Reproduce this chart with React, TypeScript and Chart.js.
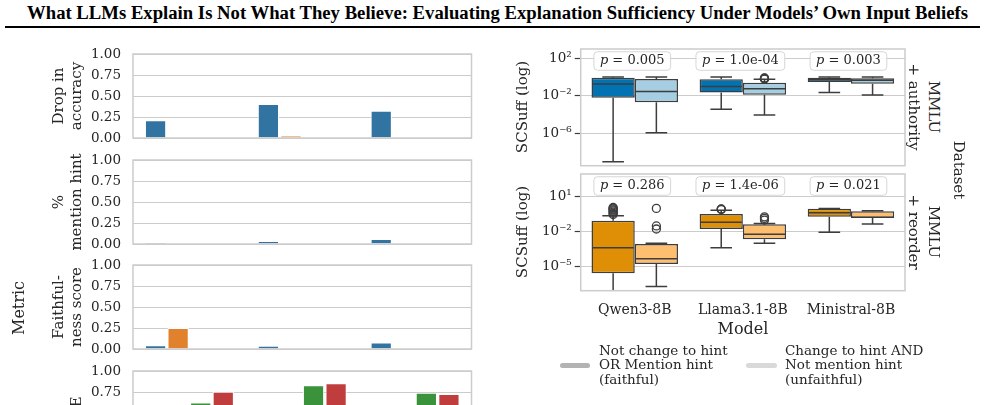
import React, { useEffect, useRef } from "react";
import { Chart, registerables } from "chart.js";
Chart.register(...registerables);

const SERIF = '"DejaVu Serif", serif';
const TEXT = "#262626";
const GRID = "#cccccc";
const EDGE = "#3d3d3d";

// ---------- data ----------
const MODELS = ["Qwen3-8B", "Llama3.1-8B", "Ministral-8B"];
const HUES = ["MMLU + authority", "MMLU + reorder", "Series 3", "Series 4"];
const HUE_COLORS = ["#3274a1", "#e1812c", "#3a923a", "#c03d3e"];
const BAR_TICKS = [0, 0.25, 0.5, 0.75, 1.0];
const NONE = [null, null, null];

// Drop in accuracy
const DROP_BLUE = [0.21, 0.405, 0.325];
const DROP_ORANGE = [null, 0.027, null];
// % mention hint
const MENTION_BLUE = [0.015, 0.036, 0.06];
// Faithfulness score
const FAITH_BLUE = [0.045, 0.04, 0.076];
const FAITH_ORANGE = [0.25, null, null];
// ECE
const ECE_GREEN = [0.625, 0.83, 0.742];
const ECE_RED = [0.754, 0.854, 0.726];

// box stats per model: [whisker low, Q1, median, Q3, whisker high]
const AUTH_FAITHFUL = [
  [9.3e-10, 6.3e-3, 0.18, 0.85, 1.0],
  [3.6e-4, 0.023, 0.1, 0.58, 1.0],
  [0.023, 0.3, 0.52, 0.85, 1.0],
];
const AUTH_UNFAITHFUL = [
  [1.15e-6, 2.0e-3, 0.028, 0.62, 1.0],
  [8.9e-5, 0.013, 0.058, 0.25, 0.58],
  [0.012, 0.19, 0.45, 0.74, 1.0],
];
const AUTH_FAITHFUL_OUT = [[], [], []];
const AUTH_UNFAITHFUL_OUT = [[], [0.62, 0.66, 0.7, 0.75, 0.8], []];
const AUTH_P = ["0.005", "1.0e-04", "0.003"];
const AUTH_TICKS = [1e2, 1e-2, 1e-6];
const AUTH_YMIN = 3.5e-10;
const AUTH_YMAX = 9.8e2;

const REORDER_FAITHFUL = [
  [5e-8, 2.75e-6, 4.3e-4, 0.087, 0.23],
  [4.3e-4, 0.017, 0.065, 0.33, 0.7],
  [8.9e-3, 0.19, 0.43, 0.93, 1.0],
];
const REORDER_UNFAITHFUL = [
  [1.95e-7, 1.7e-5, 4.9e-5, 8.9e-4, 1.0e-3],
  [1.0e-3, 2.2e-3, 6.0e-3, 0.043, 0.05],
  [0.046, 0.15, 0.17, 0.56, 0.63],
];
const REORDER_FAITHFUL_OUT = [[0.3, 0.38, 0.48, 0.6, 0.75, 0.9, 1.05, 1.2], [0.8, 0.85, 0.9], []];
const REORDER_UNFAITHFUL_OUT = [[1.0, 0.031, 0.017], [0.1, 0.14, 0.19], []];
const REORDER_P = ["0.286", "1.4e-06", "0.021"];
const REORDER_TICKS = [1e1, 1e-2, 1e-5];
const REORDER_YMIN = 8.7e-8;
const REORDER_YMAX = 8.9e2;

const AUTH_COLORS = ["#0173b2", "#a6cee3"];
const REORDER_COLORS = ["#de8f05", "#fdbf6f"];

// ---------- plugins ----------
const framePlugin = {
  id: "frame",
  afterDraw(chart: any) {
    const { ctx, chartArea: a } = chart;
    ctx.save();
    ctx.strokeStyle = GRID;
    ctx.lineWidth = 1.5;
    ctx.strokeRect(a.left, a.top, a.right - a.left, a.bottom - a.top);
    ctx.restore();
  },
};

const boxPlugin = {
  id: "boxplot",
  afterDatasetsDraw(chart: any, _args: any, opts: any) {
    const { ctx, chartArea: a } = chart;
    const y = chart.scales.y;
    const x = chart.scales.x;
    ctx.save();
    ctx.beginPath();
    ctx.rect(a.left, a.top, a.right - a.left, a.bottom - a.top);
    ctx.clip();
    ctx.strokeStyle = EDGE;
    const line = (x1: number, y1: number, x2: number, y2: number) => {
      ctx.beginPath();
      ctx.moveTo(x1, y1);
      ctx.lineTo(x2, y2);
      ctx.stroke();
    };
    chart.data.datasets.forEach((_d: any, di: number) => {
      const meta = chart.getDatasetMeta(di);
      meta.data.forEach((el: any, j: number) => {
        const [lo, q1, med, q3, hi] = opts.stats[di][j];
        const cx = el.x;
        const w = el.width;
        ctx.lineWidth = 1.5;
        line(cx - w / 2 + 1, y.getPixelForValue(med), cx + w / 2 - 1, y.getPixelForValue(med));
        line(cx, y.getPixelForValue(q3), cx, y.getPixelForValue(hi));
        line(cx, y.getPixelForValue(q1), cx, y.getPixelForValue(lo));
        line(cx - w / 4, y.getPixelForValue(hi), cx + w / 4, y.getPixelForValue(hi));
        line(cx - w / 4, y.getPixelForValue(lo), cx + w / 4, y.getPixelForValue(lo));
        ctx.lineWidth = 1.3;
        (opts.outliers[di][j] || []).forEach((v: number) => {
          ctx.beginPath();
          ctx.arc(cx, y.getPixelForValue(v), 4, 0, Math.PI * 2);
          ctx.stroke();
        });
      });
    });
    ctx.restore();

    // p-value boxes
    ctx.save();
    const fs = 13;
    (opts.pvals as string[]).forEach((p, i) => {
      const gx = x.getPixelForValue(i) - 2.5;
      const gy = a.top + 12;
      ctx.font = `italic ${fs}px ${SERIF}`;
      const w1 = ctx.measureText("p").width;
      ctx.font = `${fs}px ${SERIF}`;
      const rest = " = " + p;
      const w2 = ctx.measureText(rest).width;
      const tw = w1 + w2;
      const bw = tw + 12;
      const bh = 18.5;
      ctx.beginPath();
      (ctx as any).roundRect(gx - bw / 2, gy - bh / 2, bw, bh, 3.5);
      ctx.fillStyle = "rgba(255,255,255,0.9)";
      ctx.fill();
      ctx.strokeStyle = "#d6d6d6";
      ctx.lineWidth = 1;
      ctx.stroke();
      ctx.fillStyle = TEXT;
      ctx.textBaseline = "middle";
      ctx.textAlign = "left";
      ctx.font = `italic ${fs}px ${SERIF}`;
      ctx.fillText("p", gx - tw / 2, gy);
      ctx.font = `${fs}px ${SERIF}`;
      ctx.fillText(rest, gx - tw / 2 + w1, gy);
    });
    ctx.restore();
  },
};

const SUP: Record<string, string> = {
  "-": "\u207B", "0": "\u2070", "1": "\u00B9", "2": "\u00B2", "3": "\u00B3",
  "4": "\u2074", "5": "\u2075", "6": "\u2076", "7": "\u2077", "8": "\u2078", "9": "\u2079",
};
const powLabel = (v: number) =>
  "10" + String(Math.round(Math.log10(v))).split("").map((c) => SUP[c]).join("");

// ---------- configs ----------
function barConfig(series: (number | null)[][]) {
  return {
    type: "bar",
    data: {
      labels: MODELS,
      datasets: series.map((d, i) => ({
        label: HUES[i],
        data: d,
        backgroundColor: HUE_COLORS[i],
        borderColor: "#ffffff",
        borderWidth: 1,
        borderSkipped: "start",
        categoryPercentage: 0.8,
        barPercentage: 0.94,
      })),
    },
    options: {
      animation: false,
      responsive: false,
      devicePixelRatio: 1,
      layout: { padding: { left: 0, right: 8.5, top: 10, bottom: 10 } },
      plugins: { legend: { display: false }, tooltip: { enabled: false } },
      scales: {
        x: { display: false },
        y: {
          min: 0,
          max: 1,
          afterBuildTicks: (s: any) => {
            s.ticks = BAR_TICKS.map((v) => ({ value: v }));
          },
          afterFit: (s: any) => {
            s.width = 133;
            s.paddingTop = 0;
            s.paddingBottom = 0;
          },
          ticks: {
            callback: (v: any) => Number(v).toFixed(2),
            font: { family: SERIF, size: 13.5 },
            color: TEXT,
            padding: 12,
          },
          grid: { color: GRID, lineWidth: 1, drawTicks: false },
          border: { display: false },
        },
      },
    },
    plugins: [framePlugin],
  };
}

function boxConfig(
  faithful: number[][],
  unfaithful: number[][],
  fOut: number[][],
  uOut: number[][],
  colors: string[],
  ticks: number[],
  ymin: number,
  ymax: number,
  pvals: string[],
  showX: boolean,
  bottomPad: number,
  xHeight: number
) {
  return {
    type: "bar",
    data: {
      labels: MODELS,
      datasets: [
        {
          label: "Not change to hint OR Mention hint (faithful)",
          data: faithful.map((s) => [s[1], s[3]]),
          backgroundColor: colors[0],
          borderColor: EDGE,
          borderWidth: 1.5,
          borderSkipped: false,
          categoryPercentage: 0.8,
          barPercentage: 1,
        },
        {
          label: "Change to hint AND Not mention hint (unfaithful)",
          data: unfaithful.map((s) => [s[1], s[3]]),
          backgroundColor: colors[1],
          borderColor: EDGE,
          borderWidth: 1.5,
          borderSkipped: false,
          categoryPercentage: 0.8,
          barPercentage: 1,
        },
      ],
    },
    options: {
      animation: false,
      responsive: false,
      devicePixelRatio: 1,
      layout: { padding: { left: 0, right: 15, top: 9, bottom: bottomPad } },
      plugins: {
        legend: { display: false },
        tooltip: { enabled: false },
        boxplot: { stats: [faithful, unfaithful], outliers: [fOut, uOut], pvals },
      },
      scales: {
        x: showX
          ? {
              ticks: { font: { family: SERIF, size: 14 }, color: TEXT, padding: 11 },
              grid: { display: false, drawTicks: false },
              border: { display: false },
              afterFit: (s: any) => {
                s.height = xHeight;
                s.paddingLeft = 0;
                s.paddingRight = 0;
              },
            }
          : { display: false },
        y: {
          type: "logarithmic",
          min: ymin,
          max: ymax,
          afterBuildTicks: (s: any) => {
            s.ticks = ticks.map((v) => ({ value: v }));
          },
          afterFit: (s: any) => {
            s.width = 100.7;
            s.paddingTop = 0;
            s.paddingBottom = 0;
          },
          ticks: {
            callback: (v: any) => powLabel(Number(v)),
            font: { family: SERIF, size: 13.5 },
            color: TEXT,
            padding: 3,
          },
          grid: { color: GRID, lineWidth: 1, drawTicks: true, tickLength: 6, tickColor: EDGE, tickWidth: 1.2 },
          border: { display: false },
        },
      },
    },
    plugins: [framePlugin, boxPlugin],
  };
}

// ---------- components ----------
function ChartBox({ left, top, width, height, make }: any) {
  const ref = useRef<HTMLCanvasElement>(null);
  useEffect(() => {
    const chart = new Chart(ref.current as any, make());
    return () => chart.destroy();
  }, []);
  return (
    <div style={{ position: "absolute", left, top, width, height }}>
      <canvas ref={ref} width={width} height={height} style={{ width, height, display: "block" }} />
    </div>
  );
}

function Rot({ text, cx, cy, deg, size = 15 }: any) {
  return (
    <div
      style={{
        position: "absolute",
        left: cx,
        top: cy,
        transform: `translate(-50%, -50%) rotate(${deg}deg)`,
        whiteSpace: "nowrap",
        fontFamily: SERIF,
        fontSize: size,
        lineHeight: `${size}px`,
        color: TEXT,
      }}
    >
      {text}
    </div>
  );
}

const PANEL_TOPS = [54, 159.5, 265, 370.5];
const PANEL_H = 84;

export default function App() {
  const barSeries = [
    [DROP_BLUE, DROP_ORANGE, NONE, NONE],
    [MENTION_BLUE, NONE, NONE, NONE],
    [FAITH_BLUE, FAITH_ORANGE, NONE, NONE],
    [NONE, NONE, ECE_GREEN, ECE_RED],
  ];
  const labels: [string, string | null][] = [
    ["Drop in", "accuracy"],
    ["%", "mention hint"],
    ["Faithful-", "ness score"],
    ["ECE", null],
  ];
  return (
    <div
      style={{
        position: "absolute",
        left: 0,
        top: 0,
        width: 985,
        height: 405,
        overflow: "hidden",
        background: "#ffffff",
      }}
    >
      <div
        style={{
          position: "absolute",
          left: 5,
          top: 2,
          width: 985,
          textAlign: "center",
          fontFamily: '"Liberation Serif", serif',
          fontWeight: "bold",
          fontSize: 18.7,
          lineHeight: "21px",
          color: "#000",
          whiteSpace: "nowrap",
        }}
      >
        What LLMs Explain Is Not What They Believe: Evaluating Explanation Sufficiency Under Models’ Own Input Beliefs
      </div>
      <div style={{ position: "absolute", left: 5, top: 26, width: 975, height: 2, background: "#000" }} />

      {barSeries.map((s, i) => (
        <ChartBox
          key={i}
          left={0}
          top={PANEL_TOPS[i] - 10}
          width={480}
          height={PANEL_H + 20}
          make={() => barConfig(s)}
        />
      ))}
      {labels.map(([a, b], i) => {
        const cy = PANEL_TOPS[i] + PANEL_H / 2;
        return b === null ? (
          <Rot key={i} text={a} cx={76} cy={cy} deg={-90} />
        ) : (
          <React.Fragment key={i}>
            <Rot text={a} cx={58} cy={cy} deg={-90} />
            <Rot text={b} cx={76} cy={cy} deg={-90} />
          </React.Fragment>
        );
      })}
      <Rot text="Metric" cx={18.5} cy={307.5} deg={-90} size={16} />

      <ChartBox
        left={480}
        top={40}
        width={440}
        height={130}
        make={() =>
          boxConfig(AUTH_FAITHFUL, AUTH_UNFAITHFUL, AUTH_FAITHFUL_OUT, AUTH_UNFAITHFUL_OUT, AUTH_COLORS,
            AUTH_TICKS, AUTH_YMIN, AUTH_YMAX, AUTH_P, false, 4.3, 0)
        }
      />
      <ChartBox
        left={480}
        top={165}
        width={440}
        height={155}
        make={() =>
          boxConfig(REORDER_FAITHFUL, REORDER_UNFAITHFUL, REORDER_FAITHFUL_OUT, REORDER_UNFAITHFUL_OUT,
            REORDER_COLORS, REORDER_TICKS, REORDER_YMIN, REORDER_YMAX, REORDER_P, true, 0, 29.3)
        }
      />
      <Rot text="SCSuff (log)" cx={522} cy={107.3} deg={-90} />
      <Rot text="SCSuff (log)" cx={522} cy={232.3} deg={-90} />
      <Rot text="MMLU" cx={933} cy={107.3} deg={90} />
      <Rot text="+ authority" cx={913} cy={107.3} deg={90} />
      <Rot text="MMLU" cx={933} cy={232.3} deg={90} />
      <Rot text="+ reorder" cx={913} cy={232.3} deg={90} />
      <Rot text="Dataset" cx={958} cy={170} deg={90} />
      <Rot text="Model" cx={743} cy={329} deg={0} size={16} />

      <div style={{ position: "absolute", left: 560, top: 362.5, width: 30, height: 5, borderRadius: 2.5, background: "#b3b3b3" }} />
      <div
        style={{ position: "absolute", left: 599, top: 342.5, fontFamily: SERIF, fontSize: 13.5, lineHeight: "14.5px", color: TEXT, whiteSpace: "pre" }}
      >
        {"Not change to hint\nOR Mention hint\n(faithful)"}
      </div>
      <div style={{ position: "absolute", left: 746, top: 362.5, width: 31, height: 5, borderRadius: 2.5, background: "#d9d9d9" }} />
      <div
        style={{ position: "absolute", left: 785, top: 342.5, fontFamily: SERIF, fontSize: 13.5, lineHeight: "14.5px", color: TEXT, whiteSpace: "pre" }}
      >
        {"Change to hint AND\nNot mention hint\n(unfaithful)"}
      </div>
    </div>
  );
}
